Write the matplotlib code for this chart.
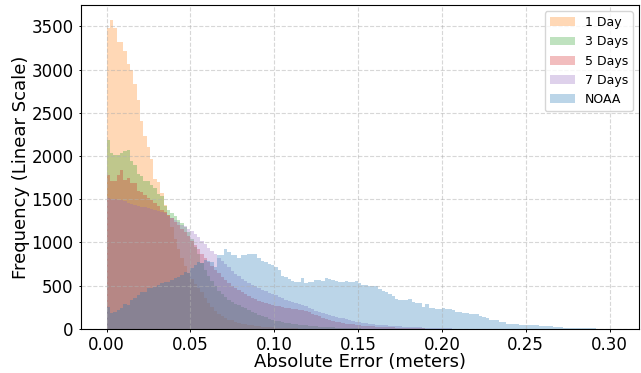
import matplotlib.pyplot as plt
import numpy as np

# histogram bin counts (bin width 0.002 m, starting at 0)
bin_width = 0.002
one_day = [3480, 3570, 3480, 3320, 3320, 3210, 3060, 3000, 2830, 2650, 2400, 2230, 2100, 1960, 1730, 1700,
           1570, 1430, 1320, 1180, 1040, 920, 820, 730, 650, 580, 520, 470, 430, 360, 300, 250, 205, 175,
           150, 125, 105, 95, 80, 68, 58, 50, 45, 40, 34, 29, 25, 21, 18, 15, 12, 10, 8, 6, 5, 4, 3, 2, 2, 1]
three_days = [2190, 2040, 2015, 2015, 2035, 2055, 2070, 1940, 1900, 1790, 1765, 1715, 1710, 1660, 1630, 1560,
              1540, 1420, 1380, 1340, 1300, 1260, 1220, 1175, 1120, 1040, 950, 860, 760, 680, 610, 550, 490,
              440, 400, 365, 335, 310, 290, 270, 255, 235, 217, 198, 180, 162, 145, 130, 117, 105, 94, 85, 77,
              70, 63, 57, 52, 47, 43, 39, 35, 31, 28, 25, 22, 19, 16, 14, 12, 10, 8, 7, 6, 5, 4, 3, 2, 2, 1, 1]
five_days = [1783, 1710, 1705, 1780, 1840, 1720, 1740, 1690, 1690, 1600, 1580, 1550, 1510, 1490, 1455, 1425,
             1380, 1350, 1320, 1280, 1240, 1200, 1160, 1115, 1070, 1020, 970, 920, 870, 820, 770, 725, 680,
             640, 600, 565, 530, 500, 470, 445, 420, 397, 375, 357, 340, 325, 310, 297, 285, 275, 265, 257,
             250, 243, 237, 231, 225, 220, 215, 202, 190, 175, 160, 142, 125, 112, 100, 90, 80, 72, 65, 60,
             55, 50, 45, 40, 36, 33, 30, 27, 25, 22, 20, 18, 16, 14, 13, 11, 10, 8, 7, 6, 5, 4, 3, 2, 1]
seven_days = [1510, 1500, 1500, 1490, 1495, 1480, 1455, 1440, 1435, 1420, 1410, 1405, 1400, 1390, 1377, 1365,
              1350, 1339, 1310, 1281, 1255, 1230, 1205, 1185, 1160, 1130, 1100, 1060, 1020, 975, 935, 900,
              865, 820, 780, 745, 710, 670, 635, 605, 580, 555, 530, 510, 490, 470, 450, 432, 415, 400, 390,
              372, 355, 335, 315, 305, 295, 285, 275, 258, 240, 225, 210, 195, 180, 170, 160, 150, 140, 128,
              118, 108, 97, 90, 83, 76, 70, 64, 58, 53, 48, 43, 40, 37, 34, 32, 30, 27, 25, 22, 20, 18, 16,
              14, 12, 10, 9, 8, 6, 5, 4, 3, 3, 2, 2, 1]
noaa = [255, 180, 197, 217, 236, 290, 280, 333, 352, 390, 430, 430, 468, 470, 487, 507, 526, 545, 545, 565,
        585, 603, 623, 661, 645, 700, 739, 777, 760, 797, 780, 770, 720, 855, 855, 925, 885, 855, 850, 820,
        855, 850, 870, 865, 860, 820, 780, 770, 750, 735, 715, 681, 611, 600, 580, 550, 540, 545, 585, 530,
        540, 545, 560, 560, 555, 585, 570, 560, 555, 545, 535, 555, 545, 545, 555, 530, 510, 505, 500, 490,
        495, 465, 440, 425, 405, 375, 345, 335, 330, 330, 340, 305, 300, 295, 255, 286, 240, 235, 232, 232,
        235, 230, 228, 215, 195, 192, 180, 185, 170, 165, 165, 145, 140, 120, 105, 105, 95, 82, 75, 55,
        55, 57, 50, 47, 43, 42, 40, 40, 38, 36, 35, 33, 27, 20, 17, 15, 12, 11, 10, 8,
        7, 6, 5, 4, 3, 3, 2, 2, 1, 1]

labels = ["1 Day", "3 Days", "5 Days", "7 Days", "NOAA"]
colors = ["tab:orange", "tab:green", "tab:red", "tab:purple", "tab:blue"]

edges = np.arange(151) * bin_width
centers = edges[:-1] + bin_width / 2

fig = plt.figure(figsize=(6.41, 3.73), dpi=100)
ax = fig.add_axes([0.1264, 0.1188, 0.8705, 0.8678])

for counts, label, color in zip([one_day, three_days, five_days, seven_days, noaa], labels, colors):
    ax.hist(centers[:len(counts)], bins=edges, weights=counts, alpha=0.3, color=color, label=label)

ax.set_xlim(-0.0152, 0.3175)
ax.set_xlabel("Absolute Error (meters)", fontsize=13, labelpad=-1)
ax.set_ylabel("Frequency (Linear Scale)", fontsize=13, labelpad=1)
ax.tick_params(labelsize=12, length=1.8, width=0.7)
ax.grid(True, linestyle="--", alpha=0.5)
ax.legend(fontsize=9, loc="upper right")

fig.savefig("out.png", dpi=100)
